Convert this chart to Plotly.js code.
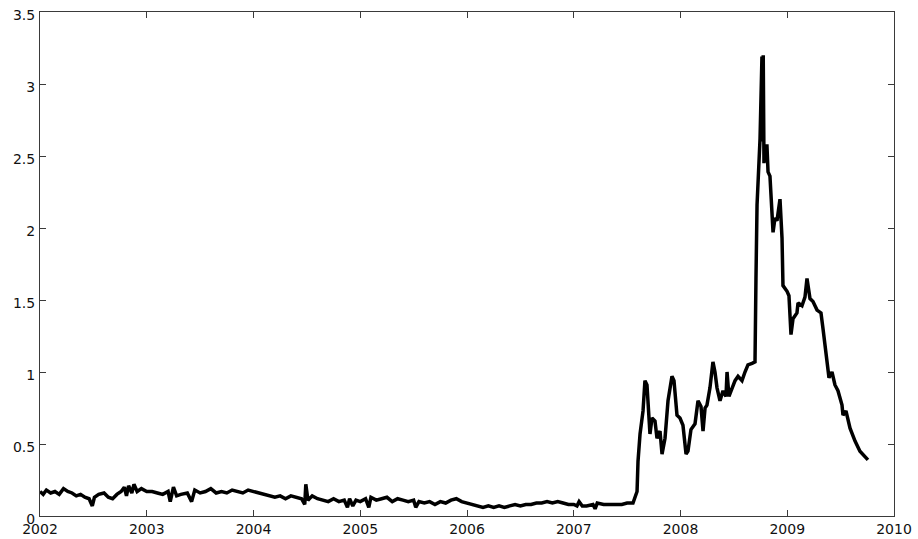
<!DOCTYPE html>
<html>
<head>
<meta charset="utf-8">
<script src="https://cdn.plot.ly/plotly-3.0.1.min.js"></script>
<style>html,body{margin:0;padding:0;background:#fff;}#chart{width:918px;height:539px;}</style>
</head>
<body>
<div id="chart"></div>
<script>
// Decimal-year time stamps and spread values
const years = [
  2002.00,2002.03,2002.06,2002.10,2002.14,2002.18,2002.22,2002.26,2002.30,2002.34,
  2002.38,2002.42,2002.46,2002.49,2002.51,2002.55,2002.60,2002.64,2002.68,2002.72,
  2002.76,2002.79,2002.81,2002.83,2002.86,2002.88,2002.91,2002.95,2003.00,2003.05,
  2003.10,2003.15,2003.20,2003.22,2003.25,2003.28,2003.32,2003.38,2003.42,2003.45,
  2003.50,2003.55,2003.60,2003.65,2003.70,2003.75,2003.80,2003.85,2003.90,2003.95,
  2004.00,2004.05,2004.10,2004.15,2004.20,2004.25,2004.30,2004.35,2004.40,2004.45,
  2004.48,2004.49,2004.51,2004.55,2004.60,2004.65,2004.70,2004.75,2004.80,2004.85,
  2004.88,2004.90,2004.93,2004.96,2005.00,2005.05,2005.08,2005.10,2005.15,2005.20,
  2005.25,2005.30,2005.35,2005.40,2005.45,2005.50,2005.52,2005.55,2005.60,2005.65,
  2005.70,2005.75,2005.80,2005.85,2005.90,2005.95,2006.00,2006.05,2006.10,2006.15,
  2006.20,2006.25,2006.30,2006.35,2006.40,2006.45,2006.50,2006.55,2006.60,2006.65,
  2006.70,2006.75,2006.80,2006.85,2006.90,2006.95,2007.00,2007.03,2007.05,2007.08,
  2007.12,2007.18,2007.20,2007.22,2007.28,2007.35,2007.40,2007.45,2007.50,2007.555,
  2007.593,2007.602,2007.621,2007.639,2007.649,2007.667,2007.686,2007.714,2007.733,2007.761,
  2007.780,2007.808,2007.827,2007.855,2007.883,2007.920,2007.939,2007.967,2007.995,2008.023,
  2008.052,2008.070,2008.098,2008.136,2008.164,2008.192,2008.211,2008.230,2008.248,2008.276,
  2008.304,2008.323,2008.342,2008.370,2008.398,2008.426,2008.436,2008.454,2008.482,2008.511,
  2008.539,2008.576,2008.604,2008.632,2008.670,2008.698,2008.707,2008.717,2008.745,2008.763,
  2008.770,2008.775,2008.782,2008.792,2008.810,2008.820,2008.838,2008.857,2008.867,2008.885,
  2008.904,2008.932,2008.951,2008.960,2008.998,2009.016,2009.035,2009.054,2009.091,2009.101,
  2009.138,2009.166,2009.185,2009.213,2009.241,2009.279,2009.316,2009.335,2009.373,2009.391,
  2009.419,2009.447,2009.475,2009.513,2009.522,2009.550,2009.588,2009.635,2009.681,2009.756
];
const spread = [
  0.17,0.15,0.18,0.16,0.17,0.15,0.19,0.17,0.16,0.14,
  0.15,0.13,0.12,0.07,0.13,0.15,0.16,0.13,0.12,0.15,
  0.17,0.20,0.14,0.21,0.16,0.22,0.17,0.19,0.17,0.17,
  0.16,0.15,0.17,0.10,0.20,0.14,0.15,0.16,0.10,0.18,
  0.16,0.17,0.19,0.16,0.17,0.16,0.18,0.17,0.16,0.18,
  0.17,0.16,0.15,0.14,0.13,0.14,0.12,0.14,0.13,0.12,
  0.08,0.22,0.11,0.14,0.12,0.11,0.10,0.12,0.10,0.11,
  0.06,0.12,0.07,0.11,0.10,0.12,0.06,0.13,0.11,0.12,
  0.13,0.10,0.12,0.11,0.10,0.11,0.06,0.10,0.09,0.10,
  0.08,0.10,0.09,0.11,0.12,0.10,0.09,0.08,0.07,0.06,
  0.07,0.06,0.07,0.06,0.07,0.08,0.07,0.08,0.08,0.09,
  0.09,0.10,0.09,0.10,0.09,0.08,0.08,0.07,0.10,0.07,
  0.07,0.08,0.05,0.09,0.08,0.08,0.08,0.08,0.09,0.09,
  0.17,0.38,0.57,0.71,0.73,0.94,0.91,0.57,0.68,0.66,
  0.54,0.59,0.43,0.54,0.80,0.97,0.94,0.70,0.68,0.63,
  0.43,0.45,0.60,0.64,0.80,0.76,0.59,0.75,0.77,0.89,
  1.07,1.00,0.89,0.80,0.87,0.83,1.00,0.83,0.89,0.94,
  0.97,0.94,1.00,1.05,1.06,1.07,1.65,2.16,2.62,3.19,
  2.60,3.20,2.45,2.57,2.57,2.39,2.36,2.02,1.97,2.07,
  2.05,2.20,1.93,1.60,1.56,1.53,1.26,1.37,1.41,1.48,
  1.46,1.52,1.65,1.51,1.49,1.43,1.41,1.30,1.07,0.96,
  1.00,0.91,0.87,0.77,0.70,0.73,0.61,0.52,0.45,0.39
];
const xTicks = [2002,2003,2004,2005,2006,2007,2008,2009,2010];
const yTicks = [0,0.5,1,1.5,2,2.5,3,3.5];
const yTickLabels = ['0','0.5','1','1.5','2','2.5','3','3.5'];

const trace = {
  x: years, y: spread, type: 'scatter', mode: 'lines',
  line: {color: '#000000', width: 3.5}, hoverinfo: 'skip'
};
const axisCommon = {
  showgrid: false, zeroline: false, showline: true, linecolor: '#3a3a3a', linewidth: 1,
  mirror: 'ticks', ticks: 'inside', ticklen: 6, tickwidth: 1, tickcolor: '#3a3a3a',
  tickfont: {family: 'DejaVu Sans, Liberation Sans, sans-serif', size: 14, color: '#111'}
};
const layout = {
  width: 918, height: 539,
  margin: {l: 40, r: 24, t: 12, b: 23},
  paper_bgcolor: '#ffffff', plot_bgcolor: '#ffffff',
  showlegend: false,
  xaxis: Object.assign({}, axisCommon, {
    range: [2002, 2010], tickmode: 'array', tickvals: xTicks,
    ticktext: xTicks.map(String), automargin: false
  }),
  yaxis: Object.assign({}, axisCommon, {
    range: [0, 3.5], tickmode: 'array', tickvals: yTicks,
    ticktext: yTickLabels, automargin: false, ticklabelshift: 3, ticklabelstandoff: 1
  })
};
Plotly.newPlot('chart', [trace], layout, {staticPlot: true, displayModeBar: false});
</script>
</body>
</html>
